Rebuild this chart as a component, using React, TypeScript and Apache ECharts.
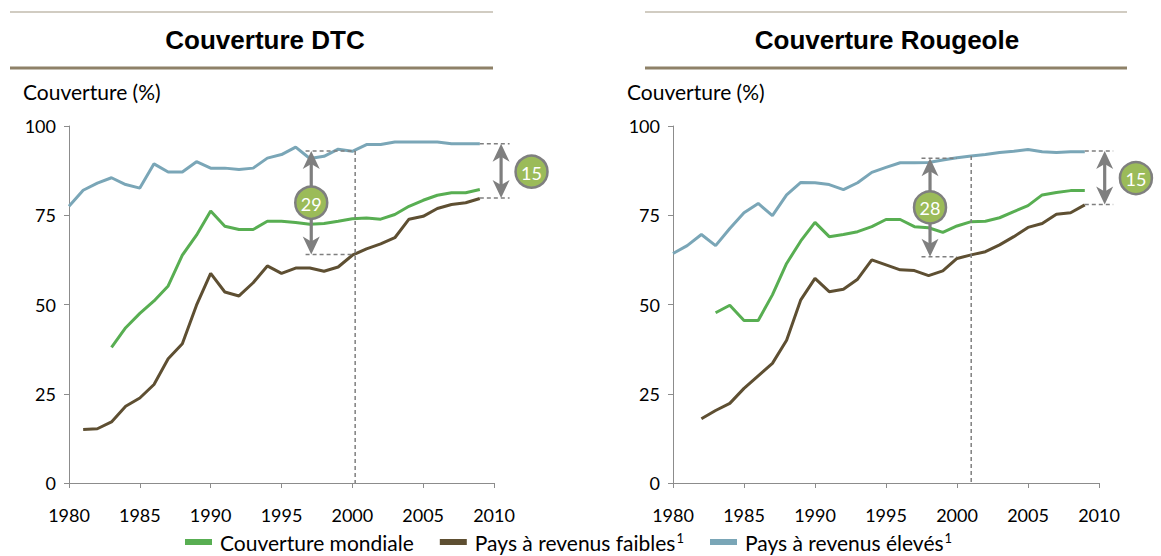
import React, { useEffect, useRef } from "react";
import * as echarts from "echarts";

const years = [
  1980, 1981, 1982, 1983, 1984, 1985, 1986, 1987, 1988, 1989,
  1990, 1991, 1992, 1993, 1994, 1995, 1996, 1997, 1998, 1999,
  2000, 2001, 2002, 2003, 2004, 2005, 2006, 2007, 2008, 2009,
];

const dtcMondiale = [
  null, null, null, 38, 43.5, 47.5, 51, 55.2, 63.8, 69.4,
  76.2, 71.9, 71, 71, 73.3, 73.3, 73, 72.5, 72.7, 73.3,
  74, 74.2, 73.9, 75.2, 77.5, 79.2, 80.6, 81.3, 81.3, 82.2,
];
const dtcFaibles = [
  null, 15.0, 15.2, 17.1, 21.5, 23.8, 27.6, 34.8, 39, 49.8,
  58.7, 53.5, 52.4, 56.1, 60.8, 58.7, 60.2, 60.2, 59.3, 60.5,
  63.8, 65.6, 67, 68.7, 73.9, 74.7, 76.9, 78, 78.5, 79.7,
];
const dtcEleves = [
  77.5, 82, 84, 85.5, 83.6, 82.6, 89.4, 87.1, 87.1, 90,
  88.2, 88.2, 87.8, 88.2, 91, 92, 94.1, 90.9, 91.5, 93.5,
  92.9, 94.8, 94.8, 95.5, 95.5, 95.5, 95.5, 95, 95, 95,
];

const rougeoleMondiale = [
  null, null, null, 47.7, 49.8, 45.5, 45.5, 52.7, 61.5, 67.8,
  73, 69, 69.6, 70.4, 71.8, 73.8, 73.8, 71.8, 71.5, 70.2,
  72, 73.2, 73.3, 74.3, 76, 77.7, 80.7, 81.4, 81.9, 81.9,
];
const rougeoleFaibles = [
  null, null, 18.0, 20.3, 22.3, 26.5, 30, 33.5, 40, 51.3,
  57.3, 53.6, 54.3, 57.1, 62.5, 61.1, 59.7, 59.5, 58.1, 59.4,
  62.9, 63.9, 64.8, 66.7, 69, 71.6, 72.7, 75.3, 75.7, 77.9,
];
const rougeoleEleves = [
  64.3, 66.5, 69.6, 66.5, 71.3, 75.7, 78.3, 74.9, 80.7, 84.2,
  84.1, 83.6, 82.2, 84.1, 87, 88.4, 89.7, 89.7, 89.8, 90.5,
  91.1, 91.6, 92, 92.6, 92.9, 93.4, 92.8, 92.6, 92.8, 92.8,
];

const titles = ["Couverture DTC", "Couverture Rougeole"];
const yAxisTitle = "Couverture (%)";
const seriesNames = ["Couverture mondiale", "Pays à revenus faibles", "Pays à revenus élevés"];

// gap annotations
const gapGrid = [0, 0, 1, 1];
const gapYear = [1997.1, 2010.5, 1998.1, 2010.4];
const gapTop = [93, 95, 91, 93];
const gapBottom = [64, 79.8, 63.4, 78];
const gapDashFrom = [1996.7, 2009, 1997.5, 2009];
const gapDashTo = [2000.2, 2011.1, 2000, 2011];
const gapBubbleYear = [1997.1, 2012.65, 1998.1, 2012.6];
const gapBubbleValue = [78.5, 87.2, 77.2, 85.4];
const gapLabel = ["29", "15", "28", "15"];

// vertical reference lines
const refGrid = [0, 1];
const refYear = [2000.2, 2001];
const refTop = [93, 91.6];

const COLORS = ["#58AE52", "#5E4F32", "#7AA6B7"];
const GRAY = "#7F7F7F";
const BODY_FONT = "Lato, 'Open Sans', sans-serif";

export default function App() {
  const ref = useRef<HTMLDivElement>(null);

  useEffect(() => {
    document.body.style.margin = "0";
    if (!ref.current) return;
    const chart = echarts.init(ref.current, null, { renderer: "svg" });

    const toData = (arr: (number | null)[]) =>
      years.map((y, i) => [y, arr[i] === null ? "-" : arr[i]]);

    const grids = [
      { left: 69, top: 126, width: 425, height: 357 },
      { left: 673, top: 126, width: 426, height: 357 },
    ];

    const xAxes = grids.map((_, i) => ({
      type: "value",
      gridIndex: i,
      min: 1980,
      max: 2010,
      interval: 5,
      axisLine: { show: true, lineStyle: { color: "#8C8C8C", width: 1 } },
      axisTick: { show: true, length: 5, lineStyle: { color: "#8C8C8C" } },
      splitLine: { show: false },
      axisLabel: {
        color: "#000",
        fontSize: 18,
        fontFamily: BODY_FONT,
        margin: 23,
        formatter: (v: number) => String(v),
      },
    }));
    const yAxes = grids.map((_, i) => ({
      type: "value",
      gridIndex: i,
      min: 0,
      max: 100,
      interval: 25,
      axisLine: { show: true, lineStyle: { color: "#8C8C8C", width: 1 } },
      axisTick: { show: true, length: 5, lineStyle: { color: "#8C8C8C" } },
      splitLine: { show: false },
      axisLabel: { color: "#000", fontSize: 18, fontFamily: BODY_FONT, margin: 13 },
    }));

    const sets = [
      [dtcMondiale, dtcFaibles, dtcEleves],
      [rougeoleMondiale, rougeoleFaibles, rougeoleEleves],
    ];
    const series: any[] = [];
    sets.forEach((set, g) => {
      set.forEach((arr, k) => {
        series.push({
          type: "line",
          name: seriesNames[k],
          xAxisIndex: g,
          yAxisIndex: g,
          data: toData(arr),
          symbol: "none",
          lineStyle: { color: COLORS[k], width: 3 },
          itemStyle: { color: COLORS[k] },
          z: 5 - k,
        });
      });
    });

    chart.setOption({
      animation: false,
      grid: grids.map((g) => ({ ...g, containLabel: false, outerBoundsMode: "none" })),
      xAxis: xAxes,
      yAxis: yAxes,
      legend: {
        data: seriesNames,
        left: 185,
        top: 531,
        padding: 0,
        itemWidth: 27,
        itemHeight: 6,
        itemGap: 26,
        icon: "rect",
        formatter: (name: string) =>
          name === seriesNames[0] ? `{t|${name}}` : `{t|${name}}{s|1}`,
        textStyle: {
          color: "#000",
          padding: [0, 0, 0, 3],
          rich: {
            t: { fontSize: 21, fontFamily: BODY_FONT, color: "#000", lineHeight: 22 },
            s: { fontSize: 13, fontFamily: BODY_FONT, color: "#000", lineHeight: 22, verticalAlign: "top", padding: [0, 0, 8, 1] },
          },
        },
      },
      series,
    });

    const px = (g: number, x: number, y: number) =>
      chart.convertToPixel({ gridIndex: g } as any, [x, y]) as number[];

    const graphics: any[] = [];

    const panels = [
      { x1: 10, x2: 493, cx: 265 },
      { x1: 645, x2: 1127, cx: 887 },
    ];
    panels.forEach((p, i) => {
      graphics.push({
        type: "line",
        shape: { x1: p.x1, y1: 12, x2: p.x2, y2: 12 },
        style: { stroke: "#A39A85", lineWidth: 1.2 },
      });
      graphics.push({
        type: "line",
        shape: { x1: p.x1, y1: 68, x2: p.x2, y2: 68 },
        style: { stroke: "#8E8168", lineWidth: 3 },
      });
      graphics.push({
        type: "text",
        style: {
          text: titles[i],
          x: p.cx,
          y: 40,
          font: "bold 26px 'Liberation Sans', Arial, sans-serif",
          fill: "#000",
          textAlign: "center",
          textVerticalAlign: "middle",
        },
      });
      graphics.push({
        type: "text",
        style: {
          text: yAxisTitle,
          x: grids[i].left - 46,
          y: 91,
          font: `21px ${BODY_FONT}`,
          fill: "#000",
          textAlign: "left",
          textVerticalAlign: "middle",
        },
      });
    });

    refGrid.forEach((g, i) => {
      const a = px(g, refYear[i], refTop[i]);
      const b = px(g, refYear[i], 0);
      graphics.push({
        type: "line",
        shape: { x1: a[0], y1: a[1], x2: b[0], y2: b[1] },
        style: { stroke: GRAY, lineWidth: 1.5, lineDash: [4, 3] },
        z: 10,
      });
    });

    gapGrid.forEach((g, i) => {
      const t1 = px(g, gapDashFrom[i], gapTop[i]);
      const t2 = px(g, gapDashTo[i], gapTop[i]);
      const b1 = px(g, gapDashFrom[i], gapBottom[i]);
      const b2 = px(g, gapDashTo[i], gapBottom[i]);
      graphics.push({
        type: "line",
        shape: { x1: t1[0], y1: t1[1], x2: t2[0], y2: t2[1] },
        style: { stroke: GRAY, lineWidth: 1.5, lineDash: [4, 3] },
        z: 10,
      });
      graphics.push({
        type: "line",
        shape: { x1: b1[0], y1: b1[1], x2: b2[0], y2: b2[1] },
        style: { stroke: GRAY, lineWidth: 1.5, lineDash: [4, 3] },
        z: 10,
      });
      const top = px(g, gapYear[i], gapTop[i]);
      const bot = px(g, gapYear[i], gapBottom[i]);
      const ax = top[0];
      const hw = 8.5;
      const hh = 18;
      graphics.push({
        type: "line",
        shape: { x1: ax, y1: top[1] + 10, x2: ax, y2: bot[1] - 10 },
        style: { stroke: GRAY, lineWidth: 3.2 },
        z: 11,
      });
      graphics.push({
        type: "polygon",
        shape: {
          points: [
            [ax, top[1]],
            [ax - hw, top[1] + hh],
            [ax, top[1] + hh - 5],
            [ax + hw, top[1] + hh],
          ],
        },
        style: { fill: GRAY },
        z: 11,
      });
      graphics.push({
        type: "polygon",
        shape: {
          points: [
            [ax, bot[1]],
            [ax - hw, bot[1] - hh],
            [ax, bot[1] - hh + 5],
            [ax + hw, bot[1] - hh],
          ],
        },
        style: { fill: GRAY },
        z: 11,
      });
      const c = px(g, gapBubbleYear[i], gapBubbleValue[i]);
      graphics.push({
        type: "circle",
        shape: { cx: c[0], cy: c[1], r: 16 },
        style: { fill: "#9BBB59", stroke: GRAY, lineWidth: 2.5 },
        z: 12,
      });
      graphics.push({
        type: "text",
        style: {
          text: gapLabel[i],
          x: c[0],
          y: c[1] + 1,
          font: `18px ${BODY_FONT}`,
          fill: "#fff",
          textAlign: "center",
          textVerticalAlign: "middle",
        },
        z: 13,
      });
    });

    chart.setOption({ graphic: graphics });

    return () => chart.dispose();
  }, []);

  return <div ref={ref} style={{ width: 1161, height: 556 }} />;
}
